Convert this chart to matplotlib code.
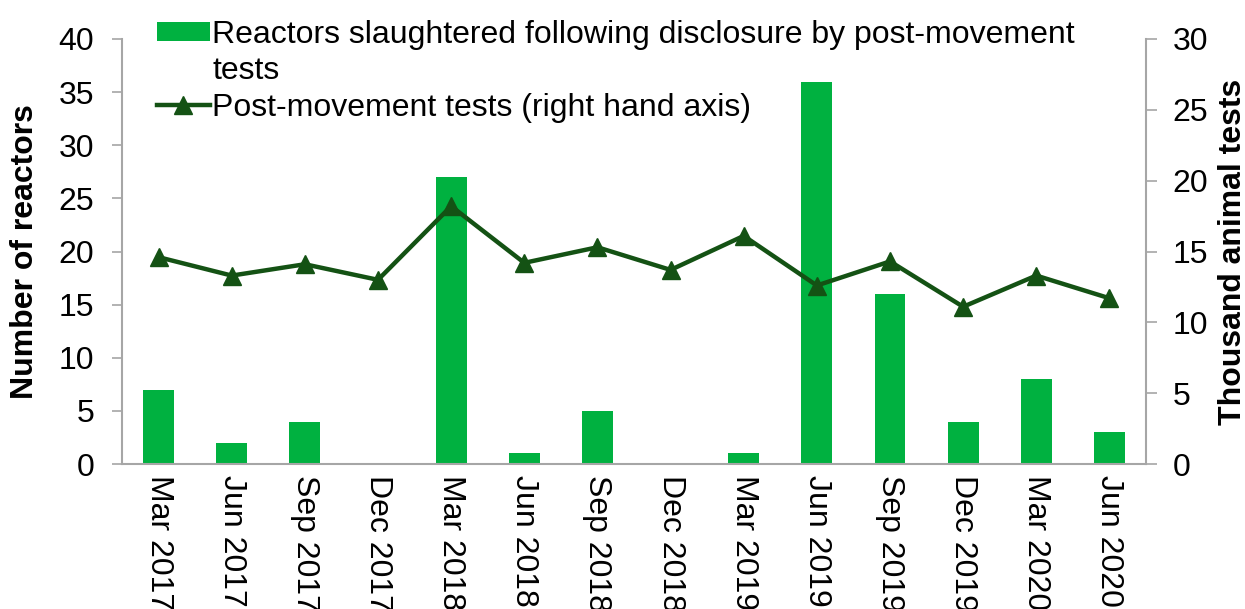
import numpy as np
import matplotlib.pyplot as plt
from matplotlib.patches import Patch

plt.rcParams['font.family'] = ['Liberation Sans', 'DejaVu Sans']

quarters = ['Mar 2017', 'Jun 2017', 'Sep 2017', 'Dec 2017', 'Mar 2018', 'Jun 2018',
            'Sep 2018', 'Dec 2018', 'Mar 2019', 'Jun 2019', 'Sep 2019', 'Dec 2019',
            'Mar 2020', 'Jun 2020']
reactors = [7, 2, 4, 0, 27, 1, 5, 0, 1, 36, 16, 4, 8, 3]
pm_tests = [14.6, 13.3, 14.1, 13.0, 18.2, 14.2, 15.3, 13.7, 16.1, 12.6, 14.3, 11.1, 13.3, 11.7]

bar_col = '#00B140'
line_col = '#145214'
grey = '#A6A6A6'

x = np.arange(len(quarters))

fig = plt.figure(figsize=(12.45, 6.09), dpi=100)
ax = fig.add_axes([122 / 1245, 1 - 464 / 609, (1146 - 122) / 1245, (464 - 39) / 609])
ax2 = ax.twinx()

bars = ax.bar(x, reactors, width=0.42, color=bar_col)
line, = ax2.plot(x, pm_tests, color=line_col, lw=3.2, marker='^', ms=13)

ax.set_xlim(-0.5, len(quarters) - 0.5)
ax.set_ylim(0, 40)
ax.set_yticks(range(0, 41, 5))
ax2.set_ylim(0, 30)
ax2.set_yticks(range(0, 31, 5))

ax.set_xticks(x)
ax.set_xticklabels(quarters, rotation=270, fontsize=23)
ax.tick_params(axis='x', length=0, pad=8)
ax.tick_params(axis='y', labelsize=23, length=7, color=grey, width=1.2, pad=13)
ax2.tick_params(axis='y', labelsize=23, length=8, color=grey, width=1.2, pad=11)

for a in (ax, ax2):
    for s in a.spines.values():
        s.set_visible(False)
ax.spines['left'].set_visible(True)
ax.spines['bottom'].set_visible(True)
ax2.spines['right'].set_visible(True)
for s in (ax.spines['left'], ax.spines['bottom'], ax2.spines['right']):
    s.set_color(grey)
    s.set_linewidth(1.5)

ax.set_ylabel('Number of reactors', fontsize=23, fontweight='bold')
ax.yaxis.set_label_coords((40 - 122) / 1024, 0.5)
ax2.set_ylabel('Thousand animal tests', fontsize=23, fontweight='bold')
ax2.yaxis.set_label_coords((1218 - 122) / 1024, 0.5)

# wrapped bar label: second line gets an empty handle so the patch sits on line one
blank = Patch(visible=False)
leg = ax.legend([bars, blank, line],
                ['Reactors slaughtered following disclosure by post-movement', 'tests',
                 'Post-movement tests (right hand axis)'],
                loc='upper left', bbox_to_anchor=(157 / 1245, 1 - 20 / 609),
                bbox_transform=fig.transFigure, frameon=False, fontsize=23,
                handlelength=1.65, handleheight=0.56, handletextpad=0.08,
                labelspacing=0.2, borderaxespad=0, borderpad=0)

fig.savefig('out.png', dpi=100)
